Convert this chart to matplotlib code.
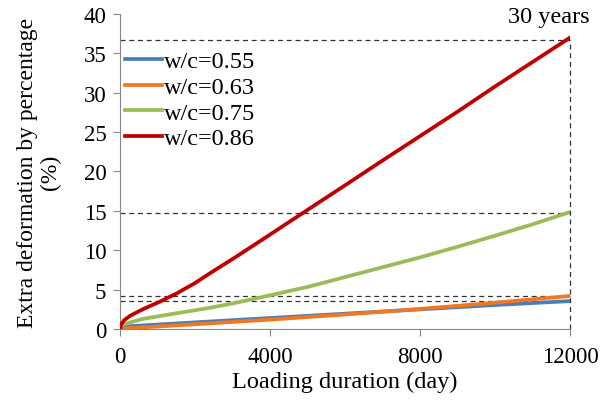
import matplotlib
matplotlib.use("Agg")
import matplotlib.pyplot as plt

plt.rcParams['font.family'] = ['Liberation Serif', 'DejaVu Serif']

# Данные
days_055 = [0, 50, 2000, 4000, 6000, 8000, 10000, 12000]
val_055 = [0, 0.3, 0.85, 1.4, 1.95, 2.5, 3.05, 3.55]

days_063 = [0, 200, 2000, 4000, 6000, 8000, 10000, 12000]
val_063 = [0, 0.1, 0.6, 1.2, 1.85, 2.55, 3.35, 4.2]

days_075 = [0, 30, 100, 270, 620, 1500, 2400, 3100, 3920, 5000, 6000, 7000,
            8000, 9000, 10000, 11000, 12000]
val_075 = [0, 0.35, 0.6, 0.85, 1.3, 2.0, 2.7, 3.35, 4.2, 5.35, 6.6, 7.85,
           9.1, 10.45, 11.85, 13.3, 14.85]

days_086 = [0, 30, 100, 270, 620, 1070, 1500, 2000, 2400, 3100, 4000, 4860,
            6000, 7000, 8000, 9000, 10000, 11000, 12000]
val_086 = [0, 0.6, 1.1, 1.7, 2.55, 3.5, 4.5, 5.85, 7.1, 9.2, 12.0, 14.7,
           18.25, 21.4, 24.5, 27.6, 30.8, 33.9, 37.0]

labels = ['w/c=0.55', 'w/c=0.63', 'w/c=0.75', 'w/c=0.86']
ref_levels = [36.7, 14.7, 4.2, 3.5]
end_day = 12000

x_ticks = [0, 4000, 8000, 12000]
y_ticks = list(range(0, 41, 5))

fig = plt.figure(figsize=(6.04, 4.02), dpi=100)
ax = fig.add_axes([0.199, 0.179, 0.745, 0.784])

# Пунктирные линии уровня 30 лет
for lev in ref_levels:
    ax.plot([0, end_day], [lev, lev], color='#333333', lw=0.9, ls=(0, (4, 3)),
            zorder=1, clip_on=False)
ax.plot([end_day, end_day], [0, ref_levels[0]], color='#333333', lw=0.9, ls=(0, (4, 3)),
        zorder=1, clip_on=False)

ax.plot(days_055, val_055, color='#4A7EBB', lw=2.7, label=labels[0], zorder=3)
ax.plot(days_063, val_063, color='#F07820', lw=2.7, label=labels[1], zorder=3)
ax.plot(days_075, val_075, color='#9BBB59', lw=2.7, label=labels[2], zorder=3)
ax.plot(days_086, val_086, color='#C00000', lw=2.7, label=labels[3], zorder=3)

ax.text(11420, 38.3, '30 years', ha='center', va='bottom', fontsize=17.5)

ax.set_xlim(0, 12000)
ax.set_ylim(0, 40)
ax.set_xticks(x_ticks)
ax.set_yticks(y_ticks)
ax.tick_params(direction='out', length=5, color='#868686', labelsize=16.5)
ax.tick_params(axis='x', pad=7)
ax.tick_params(axis='y', pad=5)

for side in ['top', 'right']:
    ax.spines[side].set_visible(False)
for side in ['left', 'bottom']:
    ax.spines[side].set_color('#868686')

ax.set_xlabel('Loading duration (day)', fontsize=17.5, labelpad=3)
ax.set_ylabel('Extra deformation by percentage\n(%)', fontsize=17, labelpad=16,
              linespacing=1.15)

ax.legend(loc='upper left', bbox_to_anchor=(-0.01, 0.915), frameon=False, fontsize=17.5,
          handlelength=1.5, handletextpad=0.1, labelspacing=0.15, borderaxespad=0)

fig.savefig('out.png', dpi=100)
